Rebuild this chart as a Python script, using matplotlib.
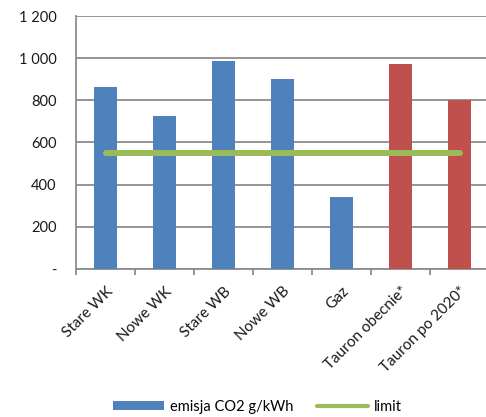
import matplotlib
matplotlib.use("Agg")
import matplotlib.pyplot as plt
from matplotlib.patches import Patch
from matplotlib.lines import Line2D
from matplotlib.ticker import FixedLocator, FuncFormatter

categories = ["Stare WK", "Nowe WK", "Stare WB", "Nowe WB", "Gaz",
              "Tauron obecnie*", "Tauron po 2020*"]
emissions = [865, 724, 985, 900, 340, 972, 800]
limit_value = 550
bar_colors = ["#4F81BD"] * 5 + ["#C0504D"] * 2
y_ticks = [0, 200, 400, 600, 800, 1000, 1200]

plt.rcParams["font.family"] = ["Lato", "DejaVu Sans"]

fig = plt.figure(figsize=(4.86, 4.17), dpi=100)
ax = fig.add_axes([0.1564, 0.355, 0.85, 0.6066])

x = list(range(len(categories)))
ax.bar(x, emissions, width=0.4, color=bar_colors, zorder=3)
ax.plot([x[0], x[-1]], [limit_value] * 2, color="#9BBB59", lw=4.3,
        solid_capstyle="round", zorder=4)

ax.set_xlim(-0.5, len(categories) - 0.5)
ax.set_ylim(0, 1200)
ax.set_yticks(y_ticks)
ax.yaxis.set_major_formatter(FuncFormatter(
    lambda v, p: "-" if v == 0 else f"{int(v):,}".replace(",", " ")))
ax.yaxis.grid(True, color="#8C8C8C", lw=1.3, zorder=0)
ax.tick_params(axis="y", length=0, pad=14, labelsize=10.5, colors="#1a1a1a")

ax.set_xticks(x)
ax.set_xticklabels(categories, rotation=45, ha="right",
                   rotation_mode="anchor", fontsize=11, color="#1a1a1a")
ax.tick_params(axis="x", which="major", length=0, pad=11)
ax.xaxis.set_minor_locator(FixedLocator([i - 0.5 for i in range(len(categories) + 1)]))
ax.tick_params(axis="x", which="minor", length=4, width=1.3, color="#8C8C8C")

for side in ["top", "right"]:
    ax.spines[side].set_visible(False)
for side in ["left", "bottom"]:
    ax.spines[side].set_color("#8C8C8C")
    ax.spines[side].set_linewidth(1.3)

handles = [Patch(facecolor="#4F81BD", edgecolor="none"),
           Line2D([0], [0], color="#9BBB59", lw=3, solid_capstyle="round")]
fig.legend(handles, ["emisja CO2 g/kWh", "limit"], ncol=2, frameon=False,
           loc="center", bbox_to_anchor=(0.53, 0.025), fontsize=10.5,
           handlelength=3.5, handleheight=0.5, columnspacing=1.6,
           handletextpad=0.4)

fig.savefig("out.png", dpi=100)
